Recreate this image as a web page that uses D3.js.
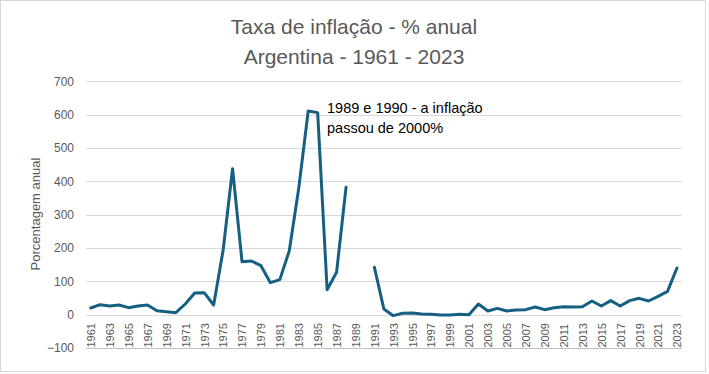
<!DOCTYPE html>
<html>
<head>
<meta charset="utf-8">
<script src="https://cdn.jsdelivr.net/npm/d3@7"></script>
<style>
  body { margin: 0; background: #fff; }
  svg { display: block; }
</style>
</head>
<body>
<script>
var width = 709;
var height = 374;

// years 1961 - 2023
var years = d3.range(1961, 2024);

// annual inflation (%), 1989 and 1990 left out of the chart
var inflation = [
  20, 30, 26, 29, 21, 26, 29, 12, 9, 6,
  32, 65, 66, 29, 193, 438, 159, 161, 147, 96,
  105, 192, 379, 611, 606, 75, 127, 382, null, null,
  142, 17, -3, 4, 5, 2, 1, -1, -1, 1,
  0, 32, 11, 19, 11, 14, 15, 23, 15, 21,
  24, 23, 24, 41, 26, 42, 26, 42, 49, 41,
  55, 70, 140
];

var yTicks = [-100, 0, 100, 200, 300, 400, 500, 600, 700];
var titleLines = ["Taxa de inflação - % anual", "Argentina - 1961 - 2023"];
var noteLines = ["1989 e 1990 - a inflação", "passou de 2000%"];

var data = years.map(function(y, i) { return {year: y, value: inflation[i]}; });

var svg = d3.select("body")
  .append("svg")
  .attr("width", width)
  .attr("height", height);

// chart frame
svg.append("rect")
  .attr("x", 0.5).attr("y", 0.5)
  .attr("width", 705).attr("height", 371)
  .attr("fill", "#fff")
  .attr("stroke", "#d9d9d9");

var x = d3.scalePoint()
  .domain(years)
  .range([86, 681.7])
  .padding(0.5);

var y = d3.scaleLinear()
  .domain([-100, 700])
  .range([348, 81.3]);

// title
svg.append("g")
  .selectAll("text")
  .data(titleLines)
  .enter()
  .append("text")
  .attr("x", 354)
  .attr("y", function(d, i) { return 34 + i * 30; })
  .attr("text-anchor", "middle")
  .attr("font-family", "'Liberation Sans', Arial, sans-serif")
  .attr("font-size", 21)
  .attr("fill", "#595959")
  .text(function(d) { return d; });

// gridlines
svg.append("g")
  .selectAll("line")
  .data(yTicks.filter(function(t) { return t > -100; }))
  .enter()
  .append("line")
  .attr("x1", 86).attr("x2", 681.7)
  .attr("y1", function(d) { return Math.round(y(d)) + 0.5; })
  .attr("y2", function(d) { return Math.round(y(d)) + 0.5; })
  .attr("stroke", "#d9d9d9")
  .attr("stroke-width", 1);

// y axis labels
var yAxis = svg.append("g")
  .attr("transform", "translate(74,0)")
  .call(d3.axisLeft(y).tickValues(yTicks).tickSize(0).tickPadding(0));
yAxis.select(".domain").remove();
yAxis.selectAll("text")
  .attr("font-family", "'Liberation Sans', Arial, sans-serif")
  .attr("font-size", 12)
  .attr("fill", "#595959");

// x axis at -100
var xAxis = svg.append("g")
  .attr("transform", "translate(0," + (Math.round(y(-100)) + 0.5) + ")")
  .call(d3.axisBottom(x).tickSize(0).tickFormat(function(d, i) { return i % 2 === 0 ? d : ""; }));
xAxis.select(".domain")
  .attr("d", "M86,0H681.7")
  .attr("stroke", "#bfbfbf");
xAxis.selectAll("text")
  .attr("font-family", "'Liberation Sans', Arial, sans-serif")
  .attr("font-size", 11)
  .attr("fill", "#595959")
  .attr("transform", "rotate(-90)")
  .attr("text-anchor", "start")
  .attr("x", 1)
  .attr("y", 0)
  .attr("dy", "0.35em");

// y axis title
svg.append("text")
  .attr("transform", "translate(35,214) rotate(-90)")
  .attr("text-anchor", "middle")
  .attr("dy", "0.35em")
  .attr("font-family", "'Liberation Sans', Arial, sans-serif")
  .attr("font-size", 13)
  .attr("fill", "#595959")
  .text("Porcentagem anual");

// series line
var line = d3.line()
  .defined(function(d) { return d.value !== null; })
  .x(function(d) { return x(d.year); })
  .y(function(d) { return y(d.value); });

svg.append("path")
  .datum(data)
  .attr("d", line)
  .attr("fill", "none")
  .attr("stroke", "#156082")
  .attr("stroke-width", 3)
  .attr("stroke-linejoin", "round")
  .attr("stroke-linecap", "round");

// annotation
svg.append("g")
  .selectAll("text")
  .data(noteLines)
  .enter()
  .append("text")
  .attr("x", 327)
  .attr("y", function(d, i) { return 113 + i * 20; })
  .attr("font-family", "'Liberation Sans', Arial, sans-serif")
  .attr("font-size", 14.5)
  .attr("fill", "#000")
  .text(function(d) { return d; });
</script>
</body>
</html>
